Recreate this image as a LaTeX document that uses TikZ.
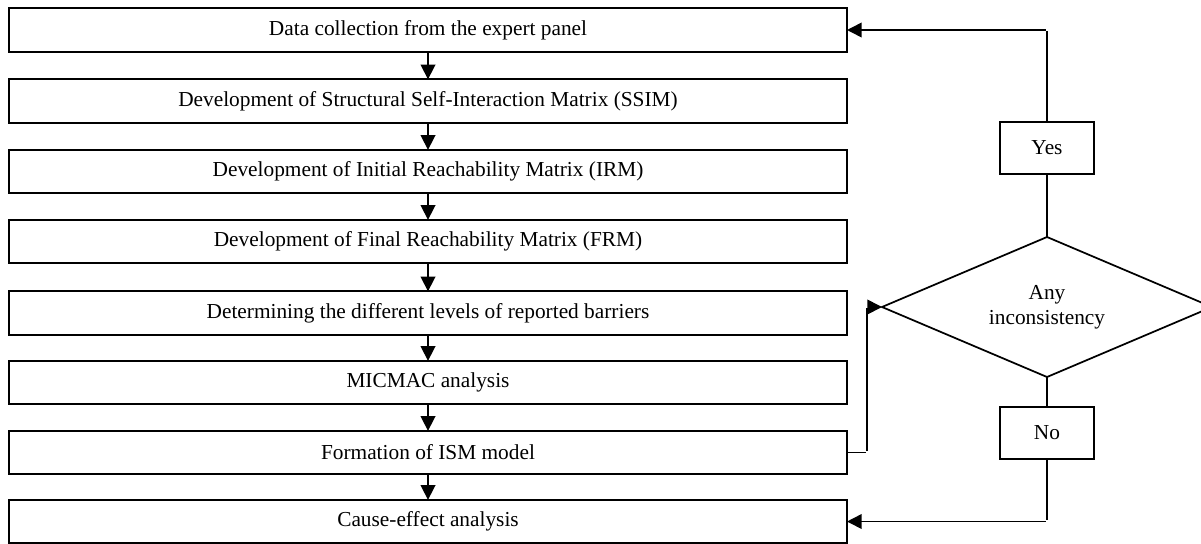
\documentclass[tikz,border=0pt]{standalone}
\usepackage{fontspec}
\setmainfont{Liberation Serif}
\usepackage{tkz-graph}
\usetikzlibrary{arrows.meta,shapes.geometric}

\begin{document}
\begin{tikzpicture}[x=0.75pt,y=-0.75pt,line width=1.2pt]
\GraphInit[vstyle=Normal]
\tikzset{VertexStyle/.style = {shape = rectangle, draw, line width=1.3pt, minimum width=628.5pt, minimum height=32.5pt, inner sep=0pt, font=\fontsize{16}{19}\selectfont}}
\tikzset{EdgeStyle/.style = {draw, line width=1.2pt}, flowarrow/.style = {-{Triangle[length=11pt,width=11pt]}}}
\useasboundingbox (0,0) rectangle (1201,543);
\Vertex[x=428,y=30,L={Data collection from the expert panel}]{S1} \Vertex[x=428,y=101,L={Development of Structural Self-Interaction Matrix (SSIM)}]{S2}
\Vertex[x=428,y=171.5,L={Development of Initial Reachability Matrix (IRM)}]{S3} \Vertex[x=428,y=241.5,L={Development of Final Reachability Matrix (FRM)}]{S4}
\Vertex[x=428,y=313,L={Determining the different levels of reported barriers}]{S5} \Vertex[x=428,y=382.5,L={MICMAC analysis}]{S6}
\Vertex[x=428,y=452.5,L={Formation of ISM model}]{S7} \Vertex[x=428,y=521.5,L={Cause-effect analysis}]{S8}
{\tikzset{VertexStyle/.style = {shape = rectangle, draw, line width=1.3pt, minimum width=71pt, minimum height=38.5pt, inner sep=0pt, font=\fontsize{16}{19}\selectfont}}
\Vertex[x=1047,y=148,L={Yes}]{Yes} \Vertex[x=1047,y=433,L={No}]{No}}
{\tikzset{VertexStyle/.style = {shape = diamond, draw, line width=1.3pt, minimum width=247.5pt, minimum height=105pt, shape aspect=2.36, inner sep=0pt, align=center, font=\fontsize{16}{18.75}\selectfont}}
\Vertex[x=1047,y=307,L={Any\\inconsistency}]{Q}}
\Edge[style={flowarrow}](S1)(S2) \Edge[style={flowarrow}](S2)(S3) \Edge[style={flowarrow}](S3)(S4) \Edge[style={flowarrow}](S4)(S5)
\Edge[style={flowarrow}](S5)(S6) \Edge[style={flowarrow}](S6)(S7) \Edge[style={flowarrow}](S7)(S8)

\Vertex[empty,x=1047,y=30]{W1} \Vertex[empty,x=1047,y=521.5]{W2} \Vertex[empty,x=867,y=452.5]{W3} \Vertex[empty,x=867,y=307]{W4}
\Edge(Q)(Yes) \Edge(Yes)(W1) \Edge[style={flowarrow}](W1)(S1)
\Edge(Q)(No) \Edge(No)(W2) \Edge[style={flowarrow}](W2)(S8)
\Edge(S7)(W3) \Edge(W3)(W4) \Edge[style={flowarrow}](W4)(Q)
\end{tikzpicture}
\end{document}
